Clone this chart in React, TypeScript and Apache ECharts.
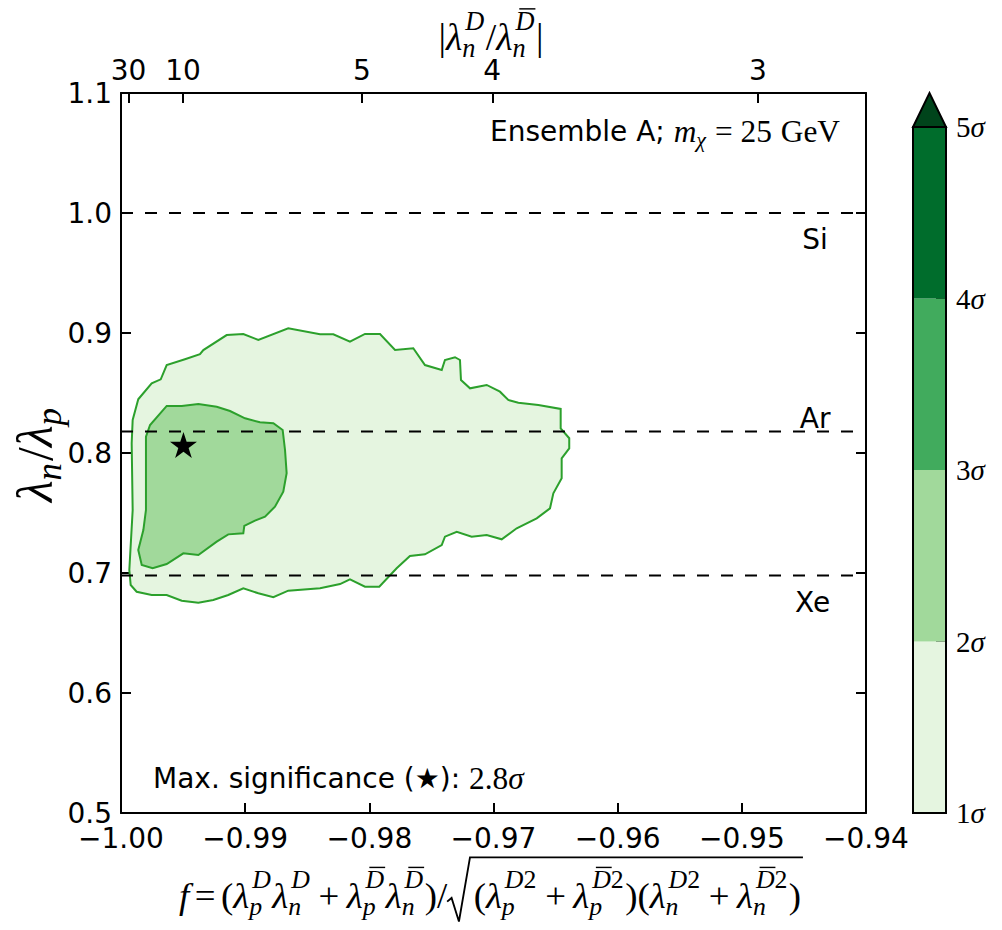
import { useEffect, useRef } from 'react';
import * as echarts from 'echarts';

// ---------------- data ----------------
const X_MIN = -1.0;
const X_MAX = -0.94;
const X_STEP = 0.01;
const Y_MIN = 0.5;
const Y_MAX = 1.1;
const Y_STEP = 0.1;

// top axis: |lambda_n^D / lambda_n^Dbar| ticks placed at f positions
const TOP_TICK_F = [-0.9994, -0.995, -0.9806, -0.9701, -0.9487];
const TOP_TICK_LABELS = ['30', '10', '5', '4', '3'];

// target nuclei lines
const TARGETS = ['Si', 'Ar', 'Xe'];
const TARGET_RATIO = [1.0, 0.818, 0.698];
const TARGET_LABEL_X = [-0.9441, -0.9441, -0.9443];
const TARGET_LABEL_Y = [0.978, 0.829, 0.6755];

// 1 sigma contour (outer)
const CONTOUR_1SIGMA: [number, number][] = [
  [-0.99861, 0.8448], [-0.99753, 0.8581], [-0.9968, 0.8614], [-0.99632, 0.8733],
  [-0.99485, 0.8781], [-0.99364, 0.8823], [-0.99337, 0.8858], [-0.99149, 0.8983],
  [-0.99015, 0.8992], [-0.98894, 0.8942], [-0.98653, 0.9039], [-0.98397, 0.8989],
  [-0.9829, 0.8989], [-0.98156, 0.8928], [-0.98035, 0.8992], [-0.97914, 0.8992],
  [-0.97793, 0.8858], [-0.97646, 0.8873], [-0.97552, 0.8733], [-0.97417, 0.8692],
  [-0.97391, 0.8775], [-0.9731, 0.8798], [-0.9727, 0.8775], [-0.97262, 0.8608],
  [-0.97189, 0.8539], [-0.97055, 0.8567], [-0.96948, 0.8511], [-0.96881, 0.8442],
  [-0.968, 0.8419], [-0.96639, 0.84], [-0.96459, 0.8367], [-0.96459, 0.8206],
  [-0.9639, 0.8123], [-0.9639, 0.8039], [-0.96451, 0.7956], [-0.96451, 0.7789],
  [-0.96518, 0.7664], [-0.96545, 0.7539], [-0.96652, 0.7456], [-0.96813, 0.7373],
  [-0.96934, 0.7281], [-0.97055, 0.7317], [-0.97176, 0.7303], [-0.97296, 0.7344],
  [-0.97391, 0.7303], [-0.97417, 0.7233], [-0.97552, 0.7156], [-0.97673, 0.7142],
  [-0.9778, 0.7039], [-0.9792, 0.6886], [-0.98035, 0.6886], [-0.98156, 0.6948],
  [-0.98236, 0.6908], [-0.98397, 0.6873], [-0.98653, 0.6853], [-0.98773, 0.6798],
  [-0.98894, 0.6831], [-0.99015, 0.6873], [-0.99136, 0.6817], [-0.99257, 0.6775],
  [-0.99377, 0.6753], [-0.99511, 0.6769], [-0.99632, 0.6817], [-0.99753, 0.6817],
  [-0.99874, 0.6844], [-0.99922, 0.69], [-0.99933, 0.7025], [-0.99906, 0.7525],
  [-0.99914, 0.8081], [-0.99906, 0.8275],
];

// 2 sigma contour (inner)
const CONTOUR_2SIGMA: [number, number][] = [
  [-0.99632, 0.8392], [-0.99511, 0.8392], [-0.99377, 0.8408], [-0.99229, 0.8386],
  [-0.99122, 0.835], [-0.99001, 0.8289], [-0.98881, 0.8256], [-0.98773, 0.8248],
  [-0.98698, 0.8192], [-0.98679, 0.8025], [-0.98666, 0.7831], [-0.98693, 0.7678],
  [-0.9876, 0.7553], [-0.9884, 0.7469], [-0.98921, 0.7436], [-0.99007, 0.7392],
  [-0.99015, 0.7331], [-0.99136, 0.7322], [-0.99229, 0.7261], [-0.99377, 0.715],
  [-0.99498, 0.7164], [-0.99632, 0.7075], [-0.99745, 0.7039], [-0.99833, 0.7067],
  [-0.99861, 0.7192], [-0.9982, 0.7358], [-0.99799, 0.7525], [-0.99799, 0.8136],
  [-0.99766, 0.8233],
];

const BEST_FIT: [number, number] = [-0.99497, 0.8067];
const MAX_SIGNIFICANCE = '2.8';

// colour bar
const SIGMA_LEVELS = [1, 2, 3, 4, 5];
const LEVEL_COLORS = ['#e5f5e0', '#a1d99b', '#41ab5d', '#006d2c'];
const EXTEND_COLOR = '#00441b';

// ---------------- styles ----------------
const SANS = '"DejaVu Sans", sans-serif';
const SERIF = '"Liberation Serif", "DejaVu Serif", serif';
const CONTOUR_STROKE = '#2ca02c';
const STAR_PATH =
  'path://M50,0 L61.2,34.5 L97.6,34.5 L68.2,55.9 L79.4,90.5 L50,69.1 L20.6,90.5 L31.8,55.9 L2.4,34.5 L38.8,34.5 Z';

// ---------------- small math-text layout helper ----------------
type P = { t: string; it?: boolean; sans?: boolean; bar?: boolean; r?: number };
type Item = P | { sub?: P[]; sup?: P[] } | { sq: 'open' | 'close' } | { gap: number };

let mctx: CanvasRenderingContext2D | null = null;
function fontOf(p: P, size: number) {
  return `${p.it ? 'italic ' : ''}${size}px ${p.sans ? SANS : SERIF}`;
}
function measure(p: P, size: number) {
  if (!mctx) mctx = document.createElement('canvas').getContext('2d');
  if (!mctx) return p.t.length * size * 0.5;
  mctx.font = fontOf(p, size);
  return mctx.measureText(p.t).width;
}

function layoutMath(items: Item[], S: number, color = '#000') {
  const els: any[] = [];
  let x = 0;
  let sqStart = 0;
  const drawRun = (run: P[], x0: number, dy: number, size0: number) => {
    let cx = x0;
    for (const p of run) {
      const size = size0 * (p.r || 1);
      const w = measure(p, size);
      els.push({
        type: 'text',
        x: cx,
        y: dy,
        silent: true,
        style: {
          text: p.t,
          fontSize: size,
          fontFamily: p.sans ? SANS : SERIF,
          fontStyle: p.it ? 'italic' : 'normal',
          fill: color,
          align: 'left',
          verticalAlign: 'middle',
        },
      });
      if (p.bar) {
        const by = dy - 0.47 * size;
        els.push({
          type: 'line',
          silent: true,
          shape: { x1: cx + 0.2 * w, y1: by, x2: cx + 1.05 * w, y2: by },
          style: { stroke: color, lineWidth: Math.max(1, size * 0.055) },
        });
      }
      cx += w;
    }
    return cx - x0;
  };
  for (const it of items) {
    if ('gap' in it) {
      x += it.gap * S;
    } else if ('sq' in it) {
      if (it.sq === 'open') {
        sqStart = x;
        x += 0.72 * S;
      } else {
        els.push({
          type: 'polyline',
          silent: true,
          shape: {
            points: [
              [sqStart, 0.18 * S],
              [sqStart + 0.12 * S, 0.08 * S],
              [sqStart + 0.32 * S, 0.72 * S],
              [sqStart + 0.62 * S, -1.02 * S],
              [x + 0.05 * S, -1.02 * S],
            ],
          },
          style: { stroke: color, fill: 'none', lineWidth: Math.max(1, S * 0.05) },
        });
        x += 0.1 * S;
      }
    } else if ('t' in it) {
      x += drawRun([it], x, 0, S);
    } else {
      const s = S * 0.7;
      const w1 = it.sub ? drawRun(it.sub, x, 0.3 * S, s) : 0;
      const w2 = it.sup ? drawRun(it.sup, x + 0.08 * S, -0.42 * S, s) + 0.08 * S : 0;
      x += Math.max(w1, w2) + 0.04 * S;
    }
  }
  return { els, width: x };
}
function fitSize(items: Item[], targetW: number) {
  const w = layoutMath(items, 100).width;
  return (100 * targetW) / w;
}
function mathGroup(items: Item[], S: number, x: number, y: number, anchor: 'left' | 'center' | 'right', rotation = 0) {
  const { els, width } = layoutMath(items, S);
  const off = anchor === 'left' ? 0 : anchor === 'center' ? -width / 2 : -width;
  els.forEach((e) => {
    if (e.type === 'text') e.x += off;
    else if (e.type === 'line') {
      e.shape.x1 += off;
      e.shape.x2 += off;
    } else if (e.type === 'polyline') {
      e.shape.points = e.shape.points.map((p: number[]) => [p[0] + off, p[1]]);
    }
  });
  return { type: 'group', x, y, rotation, silent: true, children: els };
}

const lam: P = { t: 'λ', it: true };
const sc = (sub: string, sup: P[]): Item => ({ sub: [{ t: sub, it: true }], sup });
const D: P[] = [{ t: 'D', it: true }];
const Db: P[] = [{ t: 'D', it: true, bar: true }];
const D2: P[] = [{ t: 'D', it: true }, { t: '2' }];
const Db2: P[] = [{ t: 'D', it: true, bar: true }, { t: '2' }];

const X_TITLE: Item[] = [
  { t: 'f', it: true }, { gap: 0.15 }, { t: '=' }, { gap: 0.15 }, { t: '(' },
  lam, sc('p', D), lam, sc('n', D), { gap: 0.2 }, { t: '+' }, { gap: 0.2 },
  lam, sc('p', Db), lam, sc('n', Db), { t: ')' }, { t: '/' },
  { sq: 'open' }, { t: '(' }, lam, sc('p', D2), { gap: 0.2 }, { t: '+' }, { gap: 0.2 },
  lam, sc('p', Db2), { t: ')' }, { t: '(' }, lam, sc('n', D2), { gap: 0.2 }, { t: '+' }, { gap: 0.2 },
  lam, sc('n', Db2), { t: ')' }, { sq: 'close' },
];
const TOP_TITLE: Item[] = [
  { t: '|' }, lam, sc('n', D), { t: '/' }, lam, sc('n', Db), { t: '|' },
];
const Y_TITLE: Item[] = [lam, { sub: [{ t: 'n', it: true }] }, { t: '/' }, lam, { sub: [{ t: 'p', it: true }] }];
const M = 1.12;
const ENSEMBLE_TEXT: Item[] = [
  { t: 'Ensemble A; ', sans: true }, { t: 'm', it: true, r: M }, { sub: [{ t: 'χ', it: true, r: M }] },
  { gap: 0.28 }, { t: '=', r: M }, { gap: 0.28 }, { t: '25', r: M }, { gap: 0.32 }, { t: 'GeV', r: M },
];
const MAXSIG_TEXT: Item[] = [
  { t: 'Max. significance (★): ', sans: true }, { t: MAX_SIGNIFICANCE, r: M }, { t: 'σ', it: true, r: M },
];

function buildOption(): any {
  const axisLineStyle = { color: '#000', width: 2 };
  const tick = { show: true, inside: true, length: 10, lineStyle: { color: '#000', width: 2 } };
  const tickFont = { fontFamily: SANS, fontSize: 28, color: '#000' };
  const fmtX = (v: number) => (v < -1e-9 ? '\u2212' : '') + Math.abs(v).toFixed(2);
  const fmtTop = (v: number) => {
    let best = 0;
    TOP_TICK_F.forEach((f, i) => {
      if (Math.abs(f - v) < Math.abs(TOP_TICK_F[best] - v)) best = i;
    });
    return TOP_TICK_LABELS[best];
  };

  const polySeries = (pts: [number, number][], fill: string, z: number) => ({
    type: 'custom',
    xAxisIndex: 0,
    yAxisIndex: 0,
    z,
    silent: true,
    data: pts,
    renderItem: (params: any, api: any) => {
      if (params.dataIndex !== 0) return null;
      return {
        type: 'polygon',
        shape: { points: pts.map((p) => api.coord(p)) },
        style: { fill, stroke: CONTOUR_STROKE, lineWidth: 2 },
      };
    },
  });

  const xS = fitSize(X_TITLE, 626);
  const tS = fitSize(TOP_TITLE, 105);
  const yS = fitSize(Y_TITLE, 96);
  const ens = layoutMath(ENSEMBLE_TEXT, 28);

  return {
    animation: false,
    backgroundColor: '#fff',
    grid: [
      { left: 121, top: 93, width: 745, height: 720 },
      { left: 913, top: 127, width: 33, height: 686 },
    ],
    xAxis: [
      {
        gridIndex: 0, type: 'value', min: X_MIN, max: X_MAX, interval: X_STEP, position: 'bottom',
        axisLine: { show: true, onZero: false, lineStyle: axisLineStyle },
        axisTick: tick,
        axisLabel: {
          ...tickFont, lineHeight: 22, margin: 14, formatter: fmtX, showMinLabel: true, showMaxLabel: true,
        },
        splitLine: { show: false },
      },
      {
        gridIndex: 0, type: 'value', min: X_MIN, max: X_MAX, position: 'top',
        axisLine: { show: true, onZero: false, lineStyle: axisLineStyle },
        axisTick: { ...tick, customValues: TOP_TICK_F },
        axisLabel: { ...tickFont, margin: 9, customValues: TOP_TICK_F, formatter: fmtTop },
        splitLine: { show: false },
      },
      { gridIndex: 1, type: 'value', min: 0, max: 1, show: false },
    ],
    yAxis: [
      {
        gridIndex: 0, type: 'value', min: Y_MIN, max: Y_MAX, interval: Y_STEP, position: 'left',
        axisLine: { show: true, onZero: false, lineStyle: axisLineStyle },
        axisTick: tick,
        axisLabel: {
          ...tickFont, lineHeight: 22, margin: 9, formatter: (v: number) => v.toFixed(1),
          showMinLabel: true, showMaxLabel: true,
        },
        splitLine: { show: false },
      },
      {
        gridIndex: 0, type: 'value', min: Y_MIN, max: Y_MAX, interval: Y_STEP, position: 'right',
        axisLine: { show: true, onZero: false, lineStyle: axisLineStyle },
        axisTick: tick,
        axisLabel: { show: false },
        splitLine: { show: false },
      },
      {
        gridIndex: 1, type: 'value', min: SIGMA_LEVELS[0], max: SIGMA_LEVELS[SIGMA_LEVELS.length - 1], interval: 1,
        position: 'right',
        axisLine: { show: true, onZero: false, lineStyle: axisLineStyle },
        axisTick: tick,
        axisLabel: {
          margin: 10,
          formatter: (v: number) => `{n|${v}}{s|σ}`,
          rich: {
            n: { fontFamily: SERIF, fontSize: 29, color: '#000' },
            s: { fontFamily: SERIF, fontSize: 29, fontStyle: 'italic', color: '#000' },
          },
        },
        splitLine: { show: false },
      },
    ],
    series: [
      polySeries(CONTOUR_1SIGMA, LEVEL_COLORS[0], 1),
      polySeries(CONTOUR_2SIGMA, LEVEL_COLORS[1], 2),
      ...TARGET_RATIO.map((v) => ({
        type: 'line',
        xAxisIndex: 0,
        yAxisIndex: 0,
        z: 5,
        silent: true,
        symbol: 'none',
        data: [[X_MIN, v], [X_MAX, v]],
        lineStyle: { color: '#000', width: 2, type: [12, 12] },
      })),
      {
        type: 'scatter',
        xAxisIndex: 0,
        yAxisIndex: 0,
        z: 6,
        silent: true,
        symbolSize: 1,
        itemStyle: { color: 'rgba(0,0,0,0)', opacity: 1 },
        data: TARGETS.map((t, i) => ({ name: t, value: [TARGET_LABEL_X[i], TARGET_LABEL_Y[i]] })),
        label: {
          show: true, position: 'inside', formatter: '{b}', fontFamily: SANS, fontSize: 28,
          color: '#000', opacity: 1,
        },
      },
      {
        type: 'scatter',
        xAxisIndex: 0,
        yAxisIndex: 0,
        z: 7,
        silent: true,
        symbol: STAR_PATH,
        symbolSize: [27, 26],
        itemStyle: { color: '#000', opacity: 1 },
        data: [BEST_FIT],
      },
      {
        type: 'custom',
        xAxisIndex: 2,
        yAxisIndex: 2,
        z: 1,
        silent: true,
        data: LEVEL_COLORS.map((_, i) => [0.5, SIGMA_LEVELS[i]]),
        renderItem: (params: any, api: any) => {
          const i = params.dataIndex;
          const p0 = api.coord([0, SIGMA_LEVELS[i + 1]]);
          const p1 = api.coord([1, SIGMA_LEVELS[i]]);
          return {
            type: 'rect',
            shape: { x: p0[0], y: p0[1], width: p1[0] - p0[0], height: p1[1] - p0[1] },
            style: { fill: LEVEL_COLORS[i] },
          };
        },
      },
      {
        type: 'custom',
        xAxisIndex: 2,
        yAxisIndex: 2,
        z: 3,
        silent: true,
        data: [[0.5, SIGMA_LEVELS[SIGMA_LEVELS.length - 1]]],
        renderItem: (_params: any, api: any) => {
          const top = SIGMA_LEVELS[SIGMA_LEVELS.length - 1];
          const tl = api.coord([0, top]);
          const br = api.coord([1, SIGMA_LEVELS[0]]);
          const w = br[0] - tl[0];
          return {
            type: 'group',
            children: [
              {
                type: 'polygon',
                shape: { points: [[tl[0], tl[1]], [br[0], tl[1]], [tl[0] + w / 2, tl[1] - 34]] },
                style: { fill: EXTEND_COLOR, stroke: '#000', lineWidth: 2 },
              },
              {
                type: 'rect',
                shape: { x: tl[0], y: tl[1], width: w, height: br[1] - tl[1] },
                style: { fill: 'none', stroke: '#000', lineWidth: 2 },
              },
            ],
          };
        },
      },
    ],
    graphic: {
      elements: [
        mathGroup(X_TITLE, xS, 179, 895, 'left'),
        mathGroup(TOP_TITLE, tS, 491, 37, 'center'),
        mathGroup(Y_TITLE, yS, 35, 454, 'center', Math.PI / 2),
        mathGroup(ENSEMBLE_TEXT, 28, 840 - ens.width, 131, 'left'),
        mathGroup(MAXSIG_TEXT, 28, 153, 778, 'left'),
      ],
    },
  };
}

export default function App() {
  const ref = useRef<HTMLDivElement>(null);
  useEffect(() => {
    if (!ref.current) return;
    const chart = echarts.init(ref.current, null, { renderer: 'svg' });
    chart.setOption(buildOption());
    return () => chart.dispose();
  }, []);
  return (
    <div
      ref={ref}
      style={{ position: 'fixed', left: 0, top: 0, width: 1002, height: 930, background: '#fff' }}
    />
  );
}
